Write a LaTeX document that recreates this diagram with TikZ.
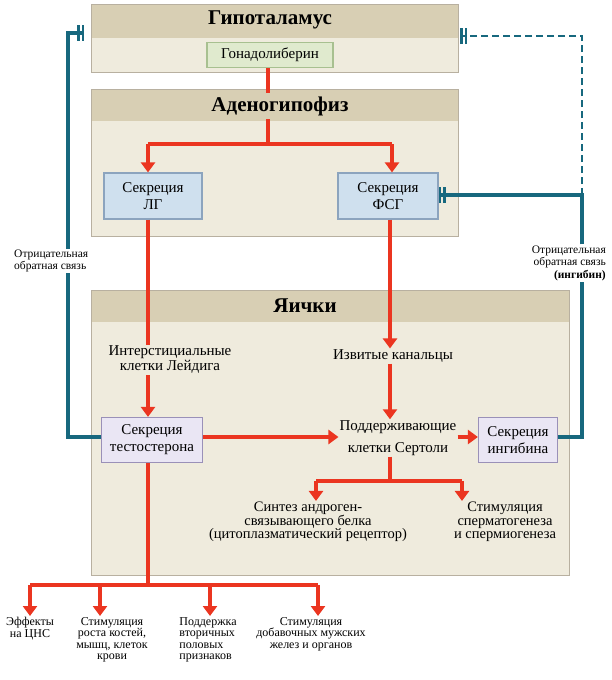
\documentclass[tikz,border=0pt]{standalone}
\usepackage{fontspec}
\setmainfont{Liberation Serif}
\usetikzlibrary{arrows.meta}
\definecolor{tanH}{HTML}{D8CFB4}
\definecolor{tanB}{HTML}{EFEBDD}
\definecolor{tanE}{HTML}{B8B0A0}
\definecolor{rd}{HTML}{EB3520}
\definecolor{bl}{HTML}{17687E}
\tikzset{
 hdr/.style={font=\bfseries\fontsize{21}{22}\selectfont},
 lbl/.style={font=\fontsize{15}{15}\selectfont, align=center, inner sep=1pt},
 sml/.style={font=\fontsize{12}{11.5}\selectfont, align=center, inner sep=1pt},
 box/.style={draw, line width=1.2pt, align=center, inner sep=1pt, font=\fontsize{15}{17}\selectfont},
 gbox/.style={box, fill={rgb,255:red,224;green,234;blue,206}, draw={rgb,255:red,168;green,192;blue,144}},
 bbox/.style={box, fill={rgb,255:red,207;green,224;blue,238}, draw={rgb,255:red,140;green,164;blue,190}},
 vbox/.style={box, fill={rgb,255:red,234;green,230;blue,244}, draw={rgb,255:red,154;green,144;blue,184}},
 ra/.style={draw=rd, line width=4pt, -{Triangle[width=14pt,length=10pt]}},
 rl/.style={draw=rd, line width=4pt},
 bf/.style={draw=bl, line width=4pt, -{Bar[width=16pt,line width=2.5pt,sep=2pt]Bar[width=16pt,line width=2.5pt]}},
 bfd/.style={draw=bl, line width=2.5pt, dash pattern=on 7pt off 4pt, -{Bar[width=16pt,line width=2.5pt,sep=2pt]Bar[width=16pt,line width=2.5pt]}},
 bll/.style={draw=bl, line width=4pt},
}
\begin{document}
\begin{tikzpicture}[x=1pt,y=-1pt]
\useasboundingbox (0,0) rectangle (611,680);
\fill[white] (0,0) rectangle (611,680);
% panels
\fill[tanB] (91,4) rectangle (458,72);
\fill[tanH] (91,4) rectangle (458,38);
\draw[tanE, line width=1pt] (91,4) rectangle (458,72);
\fill[tanB] (91,89) rectangle (458,236);
\fill[tanH] (91,89) rectangle (458,121);
\draw[tanE, line width=1pt] (91,89) rectangle (458,236);
\fill[tanB] (91,290) rectangle (569,575);
\fill[tanH] (91,290) rectangle (569,322);
\draw[tanE, line width=1pt] (91,290) rectangle (569,575);
% nodes
\node[hdr] (hyp) at (270,20) {Гипоталамус};
\node[gbox, minimum width=126pt, minimum height=25pt] (gn) at (270,55) {Гонадолиберин};
\node[hdr] (aden) at (280,106) {Аденогипофиз};
\node[bbox, minimum width=98pt, minimum height=46pt] (lg) at (153,196) {Секреция\\ЛГ};
\node[bbox, minimum width=100pt, minimum height=46pt] (fsg) at (388,196) {Секреция\\ФСГ};
\node[hdr] (ya) at (305,306) {Яички};
\node[lbl] (ley) at (170,360) {Интерстициальные\\клетки Лейдига};
\node[lbl] (izv) at (393,356) {Извитые канальцы};
\node[vbox, minimum width=101pt, minimum height=45pt] (tes) at (152,440) {Секреция\\тестостерона};
\node[lbl, font=\fontsize{15}{22}\selectfont] (ser) at (398,438) {Поддерживающие\\клетки Сертоли};
\node[vbox, minimum width=79pt, minimum height=45pt] (inh) at (518,440) {Секреция\\ингибина};
\node[lbl, font=\fontsize{14.5}{13.5}\selectfont] (syn) at (308,522) {Синтез андроген-\\связывающего белка\\(цитоплазматический рецептор)};
\node[lbl, font=\fontsize{14.5}{13.5}\selectfont] (stim) at (505,522) {Стимуляция\\сперматогенеза\\и спермиогенеза};
\node[sml, anchor=north] (e1) at (30,616) {Эффекты\\на ЦНС};
\node[sml, anchor=north] (e2) at (112,616) {Стимуляция\\роста костей,\\мышц, клеток\\крови};
\node[sml, anchor=north, align=left] (e3) at (208,616) {Поддержка\\вторичных\\половых\\признаков};
\node[sml, anchor=north] (e4) at (311,616) {Стимуляция\\добавочных мужских\\желез и органов};
\node[sml, font=\fontsize{11.5}{12.5}\selectfont, align=left, anchor=west] (nl) at (13,261) {Отрицательная\\обратная связь};
\node[sml, font=\fontsize{11.5}{12.5}\selectfont, align=right, anchor=east] (nr) at (607,263) {Отрицательная\\обратная связь\\\textbf{(ингибин)}};
% coordinates
\coordinate (xL) at (148,0);
\coordinate (xR) at (390,0);
\coordinate (y437) at (0,437);
\coordinate (br) at (268,144);
\coordinate (lgt) at (148,144);
\coordinate (fst) at (392,144);
\coordinate (sb) at (390,481);
\coordinate (sl) at (316,481);
\coordinate (sr) at (462,481);
\coordinate (tb) at (148,585);
\coordinate (bl) at (30,585);
\coordinate (b2) at (100,585);
\coordinate (b3) at (210,585);
\coordinate (b4) at (318,585);
\coordinate (L1) at (68,437);
\coordinate (L2) at (68,33);
\coordinate (Lt) at (84,33);
\coordinate (R1) at (582,437);
\coordinate (R2) at (582,195);
\coordinate (R3) at (582,36);
\coordinate (Rt) at (460,36);
% red
\draw[rl] (gn.south -| br) -- (aden.north -| br);
\draw[rl] (aden.south -| br) -- (br);
\draw[rl] (lgt) -- (fst);
\draw[ra] (lgt) -- (lg.north -| lgt);
\draw[ra] (fst) -- (fsg.north -| fst);
\draw[rl] (lg.south -| xL) -- (ley.north -| xL);
\draw[ra] (ley.south -| xL) -- (tes.north -| xL);
\draw[ra] (fsg.south -| xR) -- (izv.north -| xR);
\draw[ra] (izv.south -| xR) -- (ser.north -| xR);
\draw[ra] (tes.east |- y437) -- (ser.west |- y437);
\draw[ra] (ser.east |- y437) -- (inh.west |- y437);
\draw[rl] (ser.south -| sb) -- (sb);
\draw[rl] (sl) -- (sr);
\draw[ra] (sl) -- (syn.north -| sl);
\draw[ra] (sr) -- (stim.north -| sr);
\draw[rl] (tes.south -| tb) -- (tb);
\draw[rl] (bl) -- (b4);
\draw[ra] (bl) -- (e1.north -| bl);
\draw[ra] (b2) -- (e2.north -| b2);
\draw[ra] (b3) -- (e3.north -| b3);
\draw[ra] (b4) -- (e4.north -| b4);
% blue
\draw[bll] (tes.west |- L1) -- (L1) -- (nl.south -| L1);
\draw[bf] (nl.north -| L2) -- (L2) -- (Lt);
\draw[bll] (inh.east |- R1) -- (R1) -- (nr.south -| R1);
\draw[bf] (nr.north -| R2) -- (R2) -- (fsg.east |- R2);
\draw[bfd] (R2) -- (R3) -- (Rt);
\end{tikzpicture}
\end{document}
